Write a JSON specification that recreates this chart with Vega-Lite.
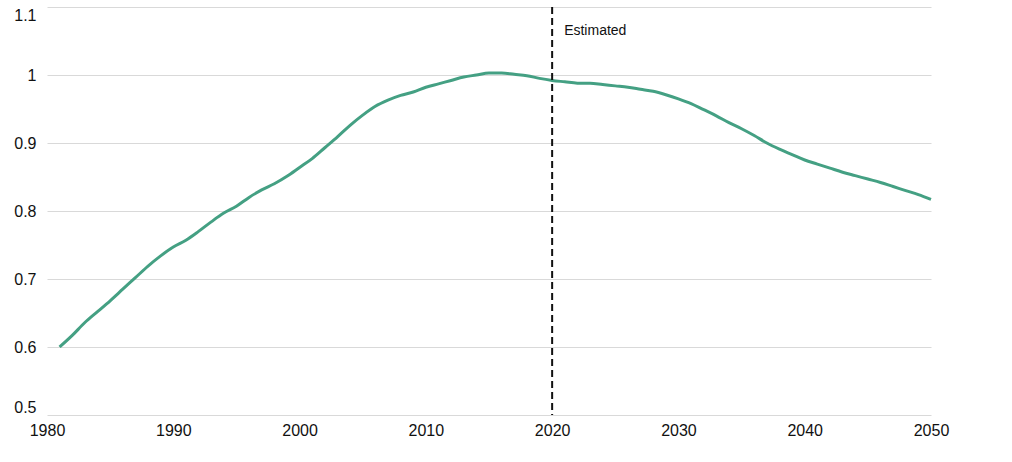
{
  "$schema": "https://vega.github.io/schema/vega-lite/v6.json",
  "width": 884,
  "height": 408,
  "autosize": "none",
  "padding": {"left": 47, "top": 7, "right": 81, "bottom": 47},
  "background": "white",
  "datasets": {
    "series": [
      {"year": 1981, "value": 0.600}, {"year": 1982, "value": 0.617}, {"year": 1983, "value": 0.636},
      {"year": 1984, "value": 0.652}, {"year": 1985, "value": 0.668}, {"year": 1986, "value": 0.685},
      {"year": 1987, "value": 0.702}, {"year": 1988, "value": 0.719}, {"year": 1989, "value": 0.734},
      {"year": 1990, "value": 0.747}, {"year": 1991, "value": 0.757}, {"year": 1992, "value": 0.770},
      {"year": 1993, "value": 0.784}, {"year": 1994, "value": 0.797}, {"year": 1995, "value": 0.807},
      {"year": 1996, "value": 0.820}, {"year": 1997, "value": 0.831}, {"year": 1998, "value": 0.840},
      {"year": 1999, "value": 0.851}, {"year": 2000, "value": 0.864}, {"year": 2001, "value": 0.877},
      {"year": 2002, "value": 0.893}, {"year": 2003, "value": 0.909}, {"year": 2004, "value": 0.926},
      {"year": 2005, "value": 0.941}, {"year": 2006, "value": 0.954}, {"year": 2007, "value": 0.963},
      {"year": 2008, "value": 0.970}, {"year": 2009, "value": 0.975}, {"year": 2010, "value": 0.982},
      {"year": 2011, "value": 0.987}, {"year": 2012, "value": 0.992}, {"year": 2013, "value": 0.997},
      {"year": 2014, "value": 1.000}, {"year": 2015, "value": 1.003}, {"year": 2016, "value": 1.003},
      {"year": 2017, "value": 1.001}, {"year": 2018, "value": 0.999}, {"year": 2019, "value": 0.995},
      {"year": 2020, "value": 0.992}, {"year": 2021, "value": 0.990}, {"year": 2022, "value": 0.988},
      {"year": 2023, "value": 0.988}, {"year": 2024, "value": 0.986}, {"year": 2025, "value": 0.984},
      {"year": 2026, "value": 0.982}, {"year": 2027, "value": 0.979}, {"year": 2028, "value": 0.976},
      {"year": 2029, "value": 0.971}, {"year": 2030, "value": 0.965}, {"year": 2031, "value": 0.958},
      {"year": 2032, "value": 0.949}, {"year": 2033, "value": 0.940}, {"year": 2034, "value": 0.930},
      {"year": 2035, "value": 0.921}, {"year": 2036, "value": 0.911}, {"year": 2037, "value": 0.900},
      {"year": 2038, "value": 0.891}, {"year": 2039, "value": 0.883}, {"year": 2040, "value": 0.875},
      {"year": 2041, "value": 0.869}, {"year": 2042, "value": 0.863}, {"year": 2043, "value": 0.857},
      {"year": 2044, "value": 0.852}, {"year": 2045, "value": 0.847}, {"year": 2046, "value": 0.842},
      {"year": 2047, "value": 0.836}, {"year": 2048, "value": 0.830}, {"year": 2049, "value": 0.824},
      {"year": 2050, "value": 0.817}
    ],
    "marker": [
      {"year": 2020, "value": 1.065, "label": "Estimated"}
    ]
  },
  "layer": [
    {
      "data": {"name": "series"},
      "mark": {"type": "line", "color": "#44a083", "strokeWidth": 3, "interpolate": "monotone"},
      "encoding": {
        "x": {
          "field": "year",
          "type": "quantitative",
          "scale": {"domain": [1980, 2050], "nice": false},
          "axis": {
            "values": [1980, 1990, 2000, 2010, 2020, 2030, 2040, 2050],
            "format": "d",
            "title": null,
            "grid": false,
            "domain": false,
            "ticks": false,
            "labelPadding": 7,
            "labelFontSize": 16,
            "labelFont": "Liberation Sans",
            "labelColor": "#111111",
            "labelFlush": false
          }
        },
        "y": {
          "field": "value",
          "type": "quantitative",
          "scale": {"domain": [0.5, 1.1], "nice": false, "zero": false},
          "axis": {
            "values": [0.5, 0.6, 0.7, 0.8, 0.9, 1, 1.1],
            "format": "~g",
            "title": null,
            "domain": false,
            "ticks": false,
            "gridColor": "#d9d9d9",
            "gridWidth": 1,
            "labelPadding": 11,
            "labelFontSize": 16,
            "labelFont": "Liberation Sans",
            "labelColor": "#111111",
            "labelFlush": true
          }
        }
      }
    },
    {
      "data": {"name": "marker"},
      "mark": {"type": "rule", "color": "#111111", "strokeWidth": 2, "strokeDash": [7, 4]},
      "encoding": {
        "x": {"field": "year", "type": "quantitative"}
      }
    },
    {
      "data": {"name": "marker"},
      "mark": {"type": "text", "align": "left", "baseline": "middle", "dx": 12, "font": "Liberation Sans", "fontSize": 14, "color": "#111111"},
      "encoding": {
        "x": {"field": "year", "type": "quantitative"},
        "y": {"field": "value", "type": "quantitative"},
        "text": {"field": "label"}
      }
    }
  ],
  "config": {
    "view": {"stroke": null}
  }
}
